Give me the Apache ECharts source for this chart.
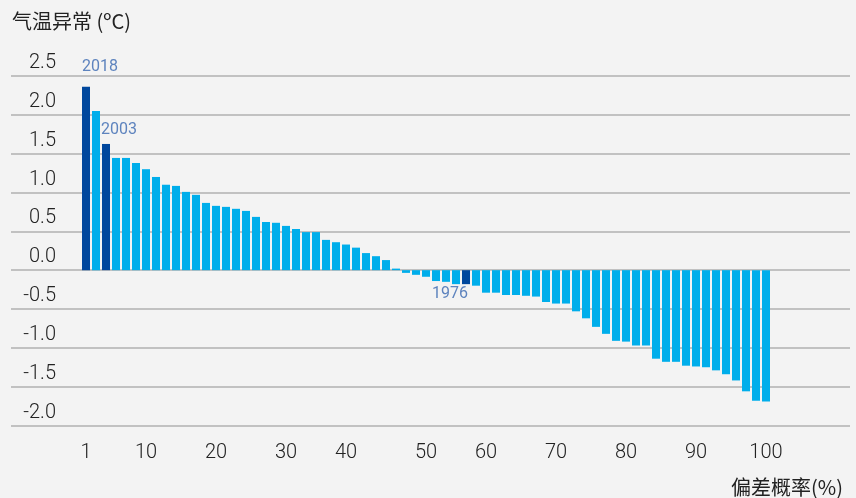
<!DOCTYPE html>
<html>
<head>
<meta charset="utf-8">
<script src="https://cdn.jsdelivr.net/npm/echarts@6/dist/echarts.min.js"></script>
<style>
  html, body { margin: 0; padding: 0; background: #f3f3f3; }
  #chart { width: 856px; height: 498px; }
</style>
</head>
<body>
<div id="chart"></div>
<script>
// Temperature anomaly (ºC), ranked from warmest to coldest (69 years)
const anomalies = [
  2.36, 2.05, 1.625, 1.445, 1.445, 1.38, 1.30, 1.20, 1.10, 1.085,
  1.008, 0.97, 0.866, 0.828, 0.815, 0.79, 0.763, 0.686, 0.62, 0.61,
  0.57, 0.53, 0.49, 0.49, 0.39, 0.36, 0.33, 0.29, 0.22, 0.18,
  0.13, 0.02, -0.035, -0.06, -0.085, -0.14, -0.15, -0.18, -0.18, -0.2,
  -0.29, -0.29, -0.32, -0.32, -0.33, -0.34, -0.41, -0.43, -0.43, -0.53,
  -0.62, -0.73, -0.82, -0.91, -0.92, -0.97, -0.97, -1.14, -1.18, -1.18,
  -1.23, -1.24, -1.25, -1.29, -1.34, -1.42, -1.56, -1.68, -1.69
];
// rank positions (categories) 1..69
const ranks = anomalies.map((v, i) => i + 1);
// highlighted years: rank and label
const highlightRanks = [1, 3, 39];
const highlightYears = ['2018', '2003', '1976'];
// x tick labels (exceedance probability %) at rank positions
const xTickRanks = [1, 7, 14, 21, 27, 35, 41, 48, 55, 62, 69];
const xTickLabels = ['1', '10', '20', '30', '40', '50', '60', '70', '80', '90', '100'];
// y ticks
const yMin = -2.0, yMax = 2.5, yStep = 0.5;

const FONT = "Roboto, 'Noto Sans CJK SC', sans-serif";
const CJK = "'Noto Sans CJK SC', sans-serif";
const LIGHT = '#00aeeb';
const DARK = '#00479d';
const ANNO = '#3766b0';

const barData = ranks.map((r, i) => ({
  value: [r, anomalies[i]],
  itemStyle: { color: highlightRanks.indexOf(r) >= 0 ? DARK : LIGHT }
}));

const annoStyles = [
  { align: 'left', verticalAlign: 'middle', offset: [-4, -20] },
  { align: 'left', verticalAlign: 'middle', offset: [-5, -14] },
  { align: 'right', verticalAlign: 'middle', offset: [2, 10] }
];
const annoData = highlightRanks.map((r, k) => ({
  value: [r, anomalies[r - 1]],
  name: highlightYears[k],
  label: Object.assign({ show: true, position: 'inside', formatter: highlightYears[k] }, annoStyles[k])
}));

const chart = echarts.init(document.getElementById('chart'));
chart.setOption({
  backgroundColor: '#f3f3f3',
  animation: false,
  title: [
    { text: '气温异常 (ºC)', left: 12, top: 11, padding: 0,
      textStyle: { fontFamily: CJK, fontSize: 20, fontWeight: 'normal', color: '#222', lineHeight: 20 } },
    { text: '偏差概率(%)', right: 13, top: 477, padding: 0,
      textStyle: { fontFamily: CJK, fontSize: 20, fontWeight: 'normal', color: '#222', lineHeight: 20 } }
  ],
  grid: { left: 11, right: 6, top: 76, bottom: 72.5, containLabel: false },
  xAxis: {
    type: 'value',
    min: -6.5,
    max: 77.4,
    axisLine: { show: false },
    axisTick: { show: false },
    splitLine: { show: false },
    axisLabel: {
      customValues: xTickRanks,
      formatter: function (v) {
        const k = xTickRanks.indexOf(Math.round(v));
        return k >= 0 ? xTickLabels[k] : '';
      },
      margin: 17,
      fontFamily: FONT,
      fontWeight: 300,
      fontSize: 20,
      color: '#222'
    }
  },
  yAxis: {
    type: 'value',
    min: yMin,
    max: yMax,
    interval: yStep,
    axisLine: { show: false },
    axisTick: { show: false },
    splitLine: { show: true, lineStyle: { color: '#b0b0b0', width: 1.5 } },
    axisLabel: {
      margin: -45,
      align: 'right',
      verticalAlign: 'bottom',
      lineHeight: 26,
      formatter: v => v.toFixed(1),
      fontFamily: FONT,
      fontWeight: 300,
      fontSize: 20,
      color: '#222'
    }
  },
  series: [
    {
      type: 'bar',
      data: barData,
      barWidth: 8,
      silent: true
    },
    {
      type: 'scatter',
      data: annoData,
      symbolSize: 0,
      silent: true,
      label: { fontFamily: FONT, fontSize: 16, color: ANNO },
      z: 5
    }
  ]
});
</script>
</body>
</html>
